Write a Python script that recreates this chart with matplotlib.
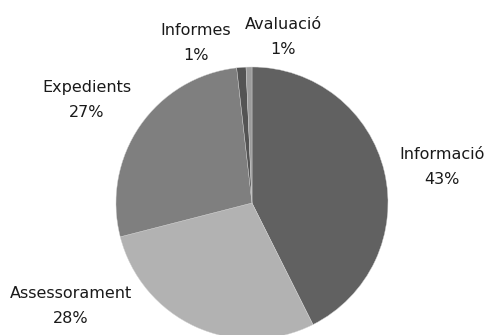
import matplotlib
matplotlib.use("Agg")
import matplotlib.pyplot as plt

# data
categories = ["Informació", "Assessorament", "Expedients", "Informes", "Avaluació"]
shares = [42.6, 28.4, 27.2, 1.1, 0.7]
pct_labels = ["43%", "28%", "27%", "1%", "1%"]
colors = ["#616161", "#b2b2b2", "#7f7f7f", "#545454", "#9c9c9c"]

# label anchor points (in units of pie radius), hand placed like the original
label_pos = [(1.397, 0.265), (-1.331, -0.757), (-1.213, 0.757), (-0.412, 1.176), (0.228, 1.221)]

plt.rcParams['font.family'] = ['DejaVu Sans']

fig = plt.figure(figsize=(4.85, 3.35), dpi=100)
ax = fig.add_axes([0, 0, 1, 1])

R = 136.0  # pie radius in pixels
cx, cy = 252.0, 203.0  # pie centre in pixels (from top-left)

ax.pie(shares, colors=colors, startangle=90, counterclock=False,
       radius=1.0, center=(0, 0), wedgeprops=dict(linewidth=0.3, edgecolor="#d0d0d0"))

ax.set_xlim(-cx / R, (485 - cx) / R)
ax.set_ylim(-(335 - cy) / R, cy / R)
ax.set_aspect('auto')
ax.axis('off')

for name, pct, (x, y) in zip(categories, pct_labels, label_pos):
    ax.text(x, y, f"{name}\n{pct}", ha='center', va='center',
            fontsize=11.5, color="#1a1a1a", linespacing=1.9)

fig.savefig("out.png", dpi=100)
